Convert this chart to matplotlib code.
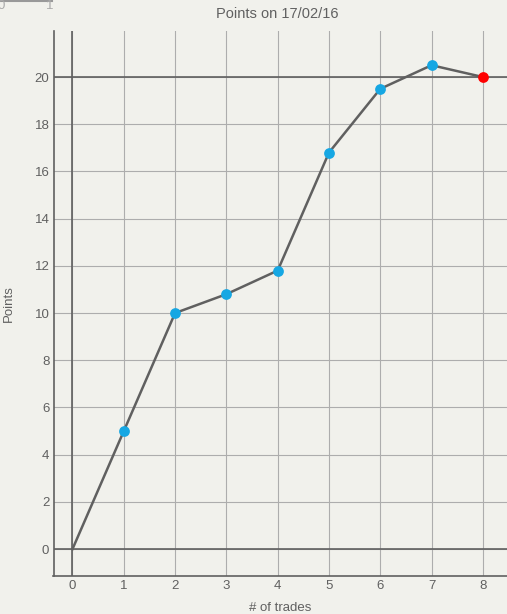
import matplotlib
matplotlib.use("Agg")
import matplotlib.pyplot as plt
import numpy as np

trades = [0, 1, 2, 3, 4, 5, 6, 7, 8]
points = [0, 5, 10, 10.8, 11.8, 16.8, 19.5, 20.5, 20]
target = 20

bg = "#f1f1ec"
dark = "#606060"
grid = "#adadad"
blue = "#16a7e3"

plt.rcParams["font.family"] = "Liberation Sans"

fig = plt.figure(figsize=(5.07, 6.14), dpi=100, facecolor=bg)
ax = fig.add_axes([53.5 / 507, 38 / 614, 1 - 53.5 / 507, (576 - 31) / 614])
ax.set_facecolor(bg)

ax.set_xlim(-0.37, 8.47)
ax.set_ylim(-1.14, 21.95)
ax.set_xticks(range(0, 9))
ax.set_yticks(range(0, 21, 2))
ax.grid(True, color=grid, lw=0.8)
ax.set_axisbelow(True)

for s in ["top", "right"]:
    ax.spines[s].set_visible(False)
for s in ["left", "bottom"]:
    ax.spines[s].set_color(dark)
    ax.spines[s].set_linewidth(1.2)

ax.axvline(0, color=dark, lw=1.2, zorder=1)
ax.axhline(0, color=dark, lw=1.2, zorder=1)
ax.axhline(target, color=dark, lw=1.2, zorder=1)

ax.tick_params(length=0, pad=3, labelsize=9.5, colors=dark)

ax.plot(trades, points, color=dark, lw=1.8, zorder=3)
ax.scatter(trades[1:-1], points[1:-1], s=60, color=blue, zorder=4, linewidths=0)
ax.scatter(trades[-1:], points[-1:], s=60, color="#ff0000", zorder=4, linewidths=0)

ax.set_xlabel("# of trades", fontsize=9.5, color=dark, labelpad=7)
ax.set_ylabel("Points", fontsize=9.5, color=dark, labelpad=14)
fig.text(277 / 507, 1 - 14 / 614, "Points on 17/02/16", ha="center", va="center",
         fontsize=10.5, color=dark)

# small leftover scale in the corner
fig.add_artist(plt.Line2D([0, 52 / 507], [1 - 1 / 614, 1 - 1 / 614], color="#999999", lw=1.5))
fig.text(-2 / 507, 1 - 6 / 614, "0", fontsize=9.5, color="#aaaaaa", va="center")
fig.text(46 / 507, 1 - 6 / 614, "1", fontsize=9.5, color="#aaaaaa", va="center")

fig.savefig("out.png", dpi=100, facecolor=bg)
